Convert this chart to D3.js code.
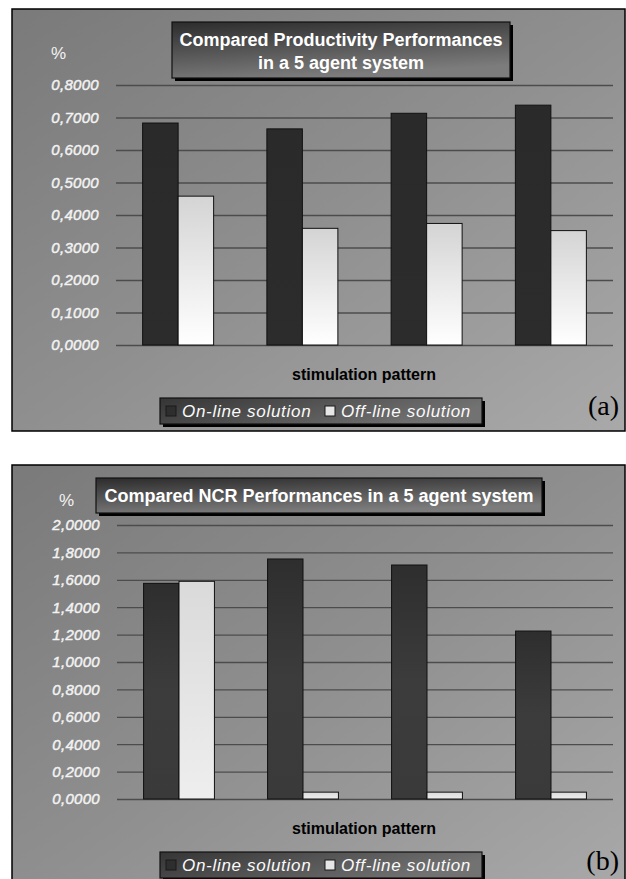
<!DOCTYPE html>
<html>
<head>
<meta charset="utf-8">
<script src="https://cdn.jsdelivr.net/npm/d3@7"></script>
<style>
  html, body { margin: 0; padding: 0; background: #fff; }
  svg { display: block; }
</style>
</head>
<body>
<svg id="fig" width="626" height="879" font-family="'Liberation Sans', Arial, sans-serif"></svg>
<script>
// Stimulation patterns (categories are not labelled on the axis)
const categories = ["P1", "P2", "P3", "P4"];
const seriesNames = ["On-line solution", "Off-line solution"];

// (a) productivity, 5 agent system
const productivityOnline  = [0.683, 0.665, 0.713, 0.738];
const productivityOffline = [0.458, 0.359, 0.374, 0.352];
const productivityTicks   = [0, 0.1, 0.2, 0.3, 0.4, 0.5, 0.6, 0.7, 0.8];

// (b) NCR, 5 agent system
const ncrOnline  = [1.574, 1.752, 1.708, 1.226];
const ncrOffline = [1.589, 0.05, 0.05, 0.05];
const ncrTicks   = [0, 0.2, 0.4, 0.6, 0.8, 1.0, 1.2, 1.4, 1.6, 1.8, 2.0];

const titleA = ["Compared Productivity Performances", "in a 5 agent system"];
const titleB = ["Compared NCR Performances in a 5 agent system"];
const xAxisTitle = "stimulation pattern";

const svg = d3.select("#fig");
const defs = svg.append("defs");

function linGrad(id, x1, y1, x2, y2, stops) {
  const g = defs.append("linearGradient").attr("id", id)
    .attr("x1", x1).attr("y1", y1).attr("x2", x2).attr("y2", y2);
  stops.forEach(([o, c]) => g.append("stop").attr("offset", o).attr("stop-color", c));
}
linGrad("bgGrad", 0, 0, 1, 1, [[0, "#7a7a7a"], [0.5, "#8f8f8f"], [1, "#a9a9a9"]]);
linGrad("titleGrad", 0, 0, 0.35, 1, [[0, "#2c2c2c"], [1, "#7c7c7c"]]);
linGrad("legendGrad", 0, 0, 1, 0.3, [[0, "#353535"], [1, "#727272"]]);
linGrad("onA", 0, 0, 0, 1, [[0, "#2a2a2a"], [1, "#2c2c2c"]]);
linGrad("offA", 0, 0, 0, 1, [[0, "#d4d4d4"], [1, "#ffffff"]]);
linGrad("onB", 0, 0, 0, 1, [[0, "#2e2e2e"], [0.5, "#3c3c3c"], [1, "#3a3a3a"]]);
linGrad("offB", 0, 0, 0, 1, [[0, "#dadada"], [1, "#eeeeee"]]);

const fmt = v => d3.format(".4f")(v).replace(".", ",");

function drawPanel(cfg) {
  const g = svg.append("g");

  // panel background and frame
  g.append("rect")
    .attr("x", cfg.frame.x).attr("y", cfg.frame.y)
    .attr("width", cfg.frame.w).attr("height", cfg.frame.h)
    .attr("fill", "url(#bgGrad)").attr("stroke", "#000").attr("stroke-width", 1.5);

  const x = d3.scaleBand().domain(categories)
    .range([cfg.plot.left, cfg.plot.right])
    .paddingInner(0.4286).paddingOuter(0.2143);
  const xs = d3.scaleBand().domain(seriesNames).range([0, x.bandwidth()]);
  const y = d3.scaleLinear().domain(cfg.domain).range([cfg.plot.bottom, cfg.plot.top]);

  // value axis with gridlines
  const axis = d3.axisLeft(y).tickValues(cfg.ticks).tickFormat(fmt)
    .tickSizeInner(-(cfg.plot.right - cfg.plot.left)).tickSizeOuter(0).tickPadding(17);
  const ax = g.append("g").attr("transform", `translate(${cfg.plot.left},0)`).call(axis);
  ax.attr("font-family", null).attr("font-size", null);
  ax.select(".domain").remove();
  ax.selectAll(".tick line").attr("stroke", "#4c4c4c").attr("stroke-width", 1.3);
  ax.selectAll(".tick text")
    .attr("fill", "#f6f6f6").attr("font-size", 15).attr("font-style", "italic")
    .attr("letter-spacing", 0.3)
    .attr("stroke", "#f0f0f0").attr("stroke-width", 0.45);

  // bars
  const rows = categories.map((c, i) => ({ cat: c, vals: [cfg.online[i], cfg.offline[i]] }));
  const grp = g.append("g").selectAll("g").data(rows).join("g")
    .attr("transform", d => `translate(${x(d.cat)},0)`);
  grp.selectAll("rect")
    .data(d => d.vals.map((v, k) => ({ name: seriesNames[k], v, k })))
    .join("rect")
    .attr("x", d => xs(d.name))
    .attr("y", d => y(d.v))
    .attr("width", xs.bandwidth())
    .attr("height", d => y(0) - y(d.v))
    .attr("fill", d => d.k === 0 ? cfg.onFill : cfg.offFill)
    .attr("stroke", "#111").attr("stroke-width", 1);

  // "%" unit label
  g.append("text").attr("x", cfg.unit.x).attr("y", cfg.unit.y)
    .attr("fill", "#f2f2f2").attr("font-size", 17).text("%");

  // title box
  const tb = cfg.titleBox;
  g.append("rect").attr("x", tb.x + 3).attr("y", tb.y + 3).attr("width", tb.w).attr("height", tb.h)
    .attr("fill", "#000");
  g.append("rect").attr("x", tb.x).attr("y", tb.y).attr("width", tb.w).attr("height", tb.h)
    .attr("fill", "url(#titleGrad)").attr("stroke", "#111").attr("stroke-width", 1.2);
  cfg.title.forEach((line, i) => {
    g.append("text").attr("x", tb.x + tb.w / 2).attr("y", cfg.titleY[i])
      .attr("text-anchor", "middle").attr("fill", "#fff")
      .attr("font-size", cfg.titleSize).attr("font-weight", "bold")
      .text(line);
  });

  // category axis title
  g.append("text").attr("x", cfg.xTitle.x).attr("y", cfg.xTitle.y)
    .attr("text-anchor", "middle").attr("fill", "#000")
    .attr("font-size", 16).attr("font-weight", "bold").text(xAxisTitle);

  // legend
  const lg = cfg.legend;
  g.append("rect").attr("x", lg.x + 3).attr("y", lg.y + 3).attr("width", lg.w).attr("height", lg.h)
    .attr("fill", "#000");
  g.append("rect").attr("x", lg.x).attr("y", lg.y).attr("width", lg.w).attr("height", lg.h)
    .attr("fill", "url(#legendGrad)").attr("stroke", "#111").attr("stroke-width", 1.2);
  const swatchFill = ["#2e2e2e", "#e6e6e6"];
  const itemX = [lg.x + 6, lg.x + 165];
  seriesNames.forEach((name, k) => {
    g.append("rect").attr("x", itemX[k]).attr("y", lg.y + lg.h / 2 - 5)
      .attr("width", 10).attr("height", 10)
      .attr("fill", swatchFill[k]).attr("stroke", "#1a1a1a").attr("stroke-width", 1);
    g.append("text").attr("x", itemX[k] + 16).attr("y", lg.y + lg.h / 2 + 6)
      .attr("fill", "#fafafa").attr("font-size", 17).attr("font-style", "italic")
      .attr("letter-spacing", 0.7)
      .text(name);
  });

  // panel tag
  g.append("text").attr("x", cfg.tag.x).attr("y", cfg.tag.y)
    .attr("text-anchor", "end").attr("fill", "#000")
    .attr("font-family", "'Liberation Serif', 'Times New Roman', serif")
    .attr("font-size", 28).text(cfg.tag.text);
}

drawPanel({
  frame: { x: 12, y: 9, w: 613, h: 422 },
  plot: { left: 116, right: 613, top: 85, bottom: 345 },
  domain: [0, 0.8], ticks: productivityTicks,
  online: productivityOnline, offline: productivityOffline,
  onFill: "url(#onA)", offFill: "url(#offA)",
  unit: { x: 51, y: 59 },
  titleBox: { x: 172, y: 22, w: 338, h: 56 },
  title: titleA, titleY: [46, 69], titleSize: 18,
  xTitle: { x: 364, y: 380 },
  legend: { x: 160, y: 398, w: 322, h: 26 },
  tag: { x: 619, y: 415, text: "(a)" }
});

drawPanel({
  frame: { x: 12, y: 465, w: 613, h: 430 },
  plot: { left: 117, right: 613, top: 525, bottom: 799 },
  domain: [0, 2.0], ticks: ncrTicks,
  online: ncrOnline, offline: ncrOffline,
  onFill: "url(#onB)", offFill: "url(#offB)",
  unit: { x: 59, y: 506 },
  titleBox: { x: 96, y: 478, w: 446, h: 35 },
  title: titleB, titleY: [502], titleSize: 18,
  xTitle: { x: 364, y: 834 },
  legend: { x: 160, y: 852, w: 322, h: 26 },
  tag: { x: 619, y: 870, text: "(b)" }
});
</script>
</body>
</html>
